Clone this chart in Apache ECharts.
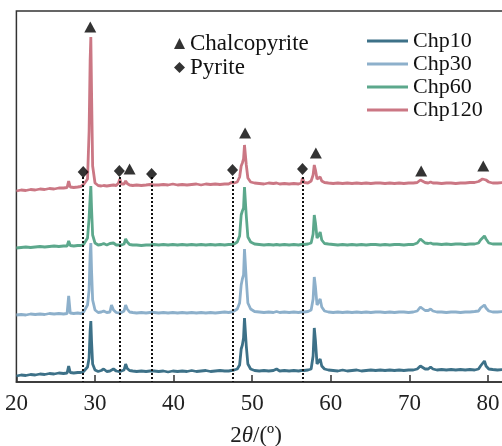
<!DOCTYPE html>
<html>
<head>
<meta charset="utf-8">
<script src="https://cdn.jsdelivr.net/npm/echarts/dist/echarts.min.js"></script>
<style>html,body{margin:0;padding:0;background:#fff}#chart{width:502px;height:446px}</style>
</head>
<body>
<div id="chart"></div>
<script>
// 2theta sample points (deg)
var theta = [
  20,20.6,21.2,21.8,22.4,23,23.6,24.2,24.8,25.4,
  26,26.45,26.65,26.85,27.3,27.8,28.2,28.45,28.55,28.75,
  29.05,29.25,29.38,29.47,29.56,29.7,30.0,30.4,30.8,31.1,
  31.5,31.9,32.1,32.35,32.7,33.0,33.15,33.35,33.7,33.9,
  34.1,34.4,34.8,35.3,35.9,36.5,37.0,37.2,37.5,38.1,
  38.7,39.3,39.9,40.5,41.1,41.7,42.3,42.9,43.5,44.1,
  44.7,45.3,45.9,46.5,47.0,47.35,47.5,47.7,48.1,48.4,
  48.6,48.75,48.9,49.02,49.12,49.25,49.45,49.8,50.3,50.9,
  51.5,52.1,52.7,53.1,53.5,54.1,54.7,55.3,55.9,56.25,
  56.4,56.6,57.1,57.5,57.75,57.9,58.05,58.25,58.5,58.65,
  58.85,59.2,59.7,60.3,60.9,61.5,62.1,62.7,63.3,63.9,
  64.5,65.1,65.7,66.3,66.9,67.5,68.1,68.7,69.3,69.9,
  70.5,71.0,71.4,71.6,72.0,72.4,72.7,73.0,73.5,74.1,
  74.7,75.3,75.9,76.5,77.1,77.7,78.3,78.8,79.05,79.3,
  79.55,79.75,80.1,80.6,81.2,82
]

var seriesName = ['Chp10', 'Chp30', 'Chp60', 'Chp120']
var colors = ['#3d7188', '#8db0cb', '#5ca88c', '#cb7784']
// vertical shift of each pattern (a.u.)
var offsets = [6, 67, 134, 191]

var chp10 = [
  0,1,0.5,1.5,1,2,1.5,2.5,2,3,
  2.5,3,10,3.5,3,3.5,3.5,4,4.5,5,
  9,18,45,55,35,12,6,4.5,5.5,7,
  4.5,5,5.5,7,5,4.5,5,5,6,12,
  7.5,5.5,5,4.5,5,4.5,5,4.5,5,4.5,
  5,4,5,4.5,5,4.5,5.5,4.5,5,5.5,
  4.5,5,5.5,5,5,5.5,6,6,7,11,
  27,31,38,58,59,30,12,7,5.5,5,
  5.5,5,5.5,7,5,5.5,5,5.5,5,5.5,
  6,5.5,6,7,20,48,35,12,14,17,
  10,7,6,5.5,5,6,5,5.5,6,5,
  5.5,6,5.5,6,5.5,6,5.5,6,5.5,6,
  6,7,10,9,7,7,9,7,6,6.5,
  6,6.5,6,6.5,6,6.5,6,7,10,8.5,
  15,10,7,6.5,6,6.5
]
var chp30 = [
  0,0.5,0,1,0.5,1,0.5,1.5,1,1.5,
  1,1.5,19,2,1.5,2,1.5,2,3,4,
  10,25,60,72,45,15,5,2.5,3,4,
  2.5,3,10,5,2.5,2,3,2.5,4,10,
  6,3,2.5,2,2.5,2,2.5,2,2.5,2,
  2.5,2,2.5,2,2.5,2,2.5,2,2.5,2,
  2.5,2,2.5,3,2.5,3,3.5,4,6,12,
  30,36,40,66,68,35,12,6,3.5,3,
  2.5,3,2.5,3.5,2.5,3,2.5,3,2.5,3,
  3.5,3,3.5,5,16,38,28,10,12,16,
  8,4,3,2.5,3,2.5,3,2.5,3,2.5,
  3,2.5,3,3,2.5,3,2.5,3,3,2.5,
  3,4,8,7,4.5,4.5,6,4,3,3,
  2.5,3,3,2.5,3,3,3.5,4,7,6,
  10,7,4,3,3,3.5
]
var chp60 = [
  0,0.5,1,0.5,1,1.5,1,1.5,2,1.5,
  2,2,7,2.5,2,2.5,2.5,3,3.5,4,
  10,30,50,62,40,13,5,3,3.5,4.5,
  3,4.5,4,5,3,3,3.5,3,4,9,
  6,3.5,3,3,2.5,3,3,3,3.5,3,
  3.5,3,3.5,3,3.5,3,3.5,3,3.5,3,
  3.5,3,3.5,3,3.5,3.5,4,4,6,12,
  33,37,40,61,62,32,11,6,4,3.5,
  3,3.5,3,3.5,3,3.5,3,3.5,3,3.5,
  4,3.5,4,5,14,33,25,10,13,16,
  8,4.5,4,3.5,3,3.5,3,3.5,3,3.5,
  3,3.5,3.5,3,3.5,3,3.5,3.5,3,3.5,
  3.5,5,9,7,5,4.5,5,4,4,3.5,
  4,3.5,4,4,3.5,4,4,5,8,9,
  12,9,5,4,4,4
]
var chp120 = [
  0,1,0.5,1.5,1,2,1.5,2.5,2,3,
  3,3.5,10,4,3.5,4,4.5,5.5,6.5,6,
  12,60,130,154,100,25,8,5.5,5,5.5,
  5,5.5,5,6,5.5,8,12,7,7,10,
  7.5,6,5.5,6,5.5,6,6.5,8,6,6,
  6.5,6,7,6,6.5,6,6.5,7,6,7,
  6.5,7,6.5,7,7,8.5,10,8,9,14,
  25,28,32,46,48,26,13,9,8,7.5,
  7,8,7.5,8,7,7.5,7,7.5,7,8,
  13,8.5,8,10,16,26,21,12,13,14,
  10,8.5,8,7.5,8,7.5,8,7.5,8,7.5,
  8,7.5,8,8,7.5,8,7.5,8,7.5,8,
  8,8.5,11,10,8.5,8,9,8,8,7.5,
  8,8,7.5,8,8,8.5,8.5,9.5,11,12,
  13,11,9,8,8,8.5
]
var seriesData = [chp10, chp30, chp60, chp120]

// phase markers
var chalcoX = [29.4, 34.4, 49.1, 58.1, 71.5, 79.4]
var chalcoY = [355, 213, 249, 229, 211, 216]
var pyriteX = [28.5, 33.1, 37.2, 47.5, 56.4]
var pyriteY = [210, 211, 208, 212, 213]
var dropTop = 205

var font = 'Liberation Serif'
var series = []
for (var i = 0; i < seriesName.length; i++) {
  (function (i) {
    series.push({
      name: seriesName[i],
      type: 'line',
      symbol: 'none',
      silent: true,
      data: theta.map(function (t, k) { return [t, seriesData[i][k] + offsets[i]] }),
      lineStyle: { width: 2.8, color: colors[i] },
      itemStyle: { color: colors[i] }
    })
  })(i)
}
series.push({
  name: 'Chalcopyrite',
  type: 'scatter',
  symbol: 'triangle',
  symbolSize: [12, 11],
  itemStyle: { color: '#000' },
  z: 5,
  data: chalcoX.map(function (x, k) { return [x, chalcoY[k]] })
})
series.push({
  name: 'Pyrite',
  type: 'scatter',
  symbol: 'diamond',
  symbolSize: [11, 12],
  itemStyle: { color: '#000' },
  z: 5,
  data: pyriteX.map(function (x, k) { return [x, pyriteY[k]] }),
  markLine: {
    silent: true,
    symbol: 'none',
    animation: false,
    label: { show: false },
    lineStyle: { color: '#111', type: [2, 2], width: 2 },
    data: pyriteX.map(function (x) { return [{ coord: [x, dropTop] }, { coord: [x, 0] }] })
  }
})

var myChart = echarts.init(document.getElementById('chart'))
option = {
  animation: false,
  grid: {
    left: 16.4, top: 11, width: 487.3, bottom: 64,
    show: true, borderColor: '#333', borderWidth: 1.5,
    outerBoundsMode: 'none'
  },
  legend: [
    {
      data: [{ name: 'Chalcopyrite', icon: 'triangle' }, { name: 'Pyrite', icon: 'diamond' }],
      orient: 'vertical', left: 174, top: 32, padding: 0,
      itemWidth: 11, itemHeight: 11, itemGap: 1, selectedMode: false,
      textStyle: { fontFamily: font, fontSize: 23, color: '#111' }
    },
    {
      data: seriesName,
      orient: 'vertical', left: 367, top: 30, padding: 0,
      icon: 'rect', itemWidth: 41, itemHeight: 3, itemGap: 1, selectedMode: false,
      textStyle: { fontFamily: font, fontSize: 22, color: '#111' }
    }
  ],
  xAxis: {
    type: 'value', min: 20, max: 82, interval: 10,
    axisLine: { lineStyle: { color: '#333', width: 1.5 } },
    axisTick: { inside: true, length: 7, lineStyle: { color: '#333', width: 1.5 } },
    axisLabel: {
      margin: 10, fontFamily: font, fontSize: 23, color: '#222',
      formatter: function (v) { return v % 10 === 0 ? v : '' }
    },
    splitLine: { show: false },
    name: '2{i|θ}/(º)',
    nameLocation: 'middle',
    nameGap: 42,
    nameTextStyle: {
      fontFamily: font, fontSize: 23, color: '#222', padding: [0, 8, 0, 0],
      rich: { i: { fontFamily: font, fontSize: 23, fontStyle: 'italic', color: '#222' } }
    }
  },
  yAxis: {
    type: 'value', min: 0, max: 371,
    axisLine: { show: false }, axisTick: { show: false },
    axisLabel: { show: false }, splitLine: { show: false }
  },
  series: series
}
myChart.setOption(option)
</script>
</body>
</html>
